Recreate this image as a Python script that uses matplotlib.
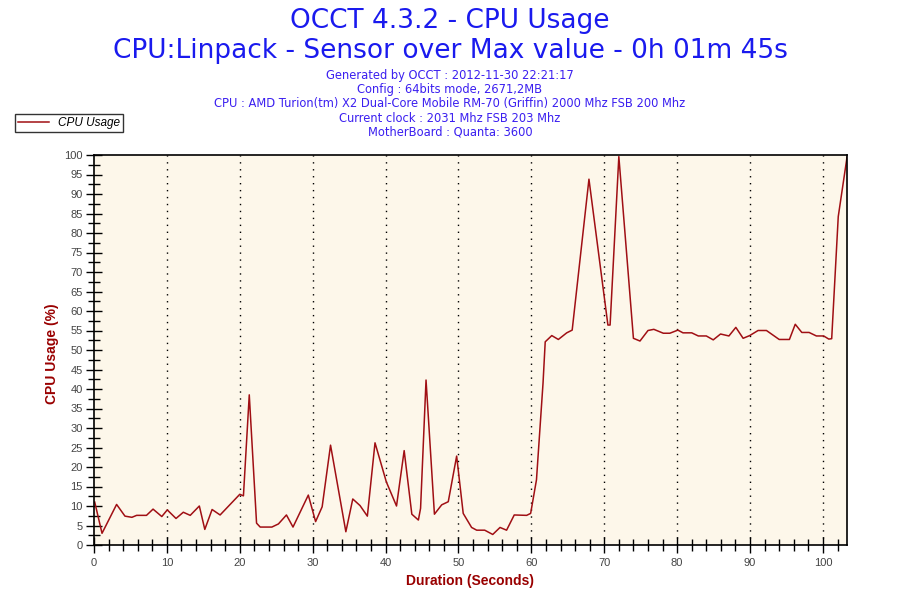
import numpy as np
import matplotlib.pyplot as plt
from matplotlib.ticker import MultipleLocator

# sensor readings
seconds = [0.1, 1.1, 3.1, 4.25, 5.2, 5.85, 7.2, 8.1, 9.3, 10.05, 11.25, 12.25, 13.2,
           14.45, 15.2, 16.2, 17.3, 20.0, 20.5, 21.3, 22.3, 22.8, 24.4, 25.3, 26.4,
           27.3, 29.4, 30.4, 31.3, 32.45, 34.55, 35.5, 36.5, 37.5, 38.55, 40.1, 41.5,
           42.55, 43.6, 44.5, 44.8, 45.55, 46.7, 47.7, 48.6, 49.75, 50.65, 51.8, 52.5,
           53.6, 54.7, 55.7, 56.6, 57.65, 59.35, 59.9, 60.7, 61.6, 61.9, 62.8, 63.7,
           64.85, 65.6, 67.9, 70.5, 70.8, 72.0, 74.0, 74.9, 76.0, 76.8, 78.1, 79.0,
           80.1, 80.8, 82.0, 82.9, 84.0, 84.95, 85.95, 87.1, 88.05, 89.05, 89.95, 91.1,
           92.25, 94.0, 95.4, 96.2, 97.1, 98.1, 99.1, 100.1, 100.8, 101.2, 102.1, 103.3]
cpu_usage = [11.0, 3.0, 10.4, 7.4, 7.1, 7.6, 7.6, 9.2, 7.3, 9.0, 6.8, 8.4, 7.6,
             10.0, 4.0, 9.1, 7.7, 13.0, 12.6, 38.5, 5.6, 4.6, 4.6, 5.4, 7.7,
             4.6, 12.8, 6.0, 9.8, 25.6, 3.4, 11.8, 10.1, 7.4, 26.2, 16.2, 10.0,
             24.2, 7.9, 6.4, 9.4, 42.3, 7.9, 10.3, 11.1, 22.8, 8.1, 4.5, 3.8,
             3.8, 2.7, 4.5, 3.8, 7.7, 7.6, 8.1, 16.7, 41.5, 52.1, 53.7, 52.7,
             54.4, 55.1, 93.8, 56.4, 56.4, 99.6, 53.0, 52.3, 55.0, 55.3, 54.3, 54.3,
             55.1, 54.4, 54.4, 53.6, 53.6, 52.6, 54.1, 53.6, 55.8, 53.0, 53.7, 55.0,
             55.0, 52.7, 52.7, 56.6, 54.5, 54.5, 53.6, 53.6, 52.8, 52.9, 84.2, 99.4]

title_lines = ['OCCT 4.3.2 - CPU Usage',
               'CPU:Linpack - Sensor over Max value - 0h 01m 45s']
info_lines = ['Generated by OCCT : 2012-11-30 22:21:17',
              'Config : 64bits mode, 2671,2MB',
              'CPU : AMD Turion(tm) X2 Dual-Core Mobile RM-70 (Griffin) 2000 Mhz FSB 200 Mhz',
              'Current clock : 2031 Mhz FSB 203 Mhz',
              'MotherBoard : Quanta: 3600']

plt.rcParams['font.family'] = ['Liberation Sans', 'DejaVu Sans']

fig = plt.figure(figsize=(9, 6), dpi=100)
ax = fig.add_axes([94/900, 1-545/600, 753/900, 390/600])
ax.set_facecolor('#fdf7ea')

line_col = '#a00f14'
ax.plot(seconds, cpu_usage, color=line_col, lw=1.1, label='CPU Usage')

ax.set_xlim(0, 103.3)
ax.set_ylim(0, 100)
ax.xaxis.set_major_locator(MultipleLocator(10))
ax.xaxis.set_minor_locator(MultipleLocator(2))
ax.yaxis.set_major_locator(MultipleLocator(5))
ax.yaxis.set_minor_locator(MultipleLocator(2.5))
ax.tick_params(which='major', direction='inout', length=12, width=1, labelsize=8,
               labelcolor='#444444', top=False, right=False)
ax.tick_params(which='minor', direction='inout', length=8, width=1, top=False, right=False)
ax.tick_params(axis='x', pad=3)
ax.tick_params(axis='y', pad=2)
for x in range(10, 101, 10):
    ax.axvline(x, color='black', lw=1, ls=(0, (1, 4)), zorder=0.5)
for s in ax.spines.values():
    s.set_linewidth(1.2)

ax.set_xlabel('Duration (Seconds)', color='#990000', fontsize=10, fontweight='bold', labelpad=5)
ax.set_ylabel('CPU Usage (%)', color='#990000', fontsize=10, fontweight='bold')
ax.yaxis.set_label_coords(-0.047, 0.49)

fig.text(0.5, 1-21/600, title_lines[0], ha='center', va='center', fontsize=19,
         color='#1a1aee', family='DejaVu Sans')
fig.text(0.5, 1-51/600, title_lines[1], ha='center', va='center', fontsize=19,
         color='#1a1aee', family='DejaVu Sans')
for i, s in enumerate(info_lines):
    fig.text(0.5, 1-(76+14*i)/600, s, ha='center', va='center', fontsize=8.3,
             color='#3b1ff0', family='DejaVu Sans')

leg = fig.legend(loc='upper left', bbox_to_anchor=(15/900, 1-114/600), frameon=True,
                 fancybox=False, edgecolor='black', prop={'style': 'italic', 'size': 8.5},
                 handlelength=2.6, borderpad=0.25, borderaxespad=0)
leg.get_frame().set_linewidth(1.0)

fig.savefig('out.png', dpi=100)
